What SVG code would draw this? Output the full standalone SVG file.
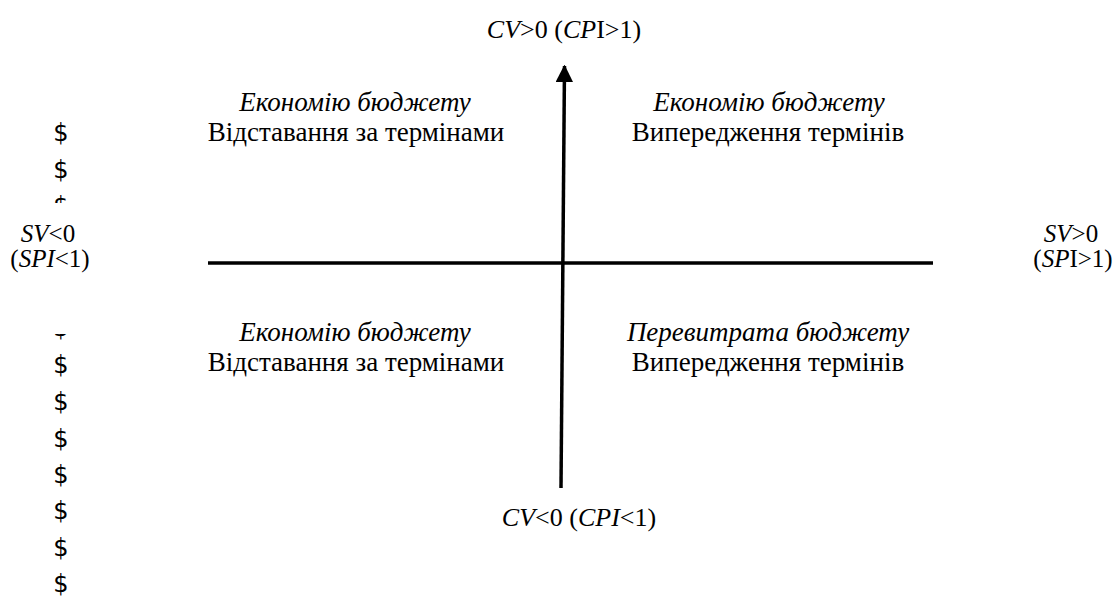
<svg xmlns="http://www.w3.org/2000/svg" width="1115" height="603" viewBox="0 0 1115 603">
<style>
.q{font-size:27px;text-anchor:middle;font-family:'Liberation Serif',serif}
.a{font-size:25px;text-anchor:middle;font-family:'Liberation Serif',serif}
.i{font-style:italic}
.d{font-size:24px;text-anchor:middle;fill:#000;font-family:'DejaVu Sans',sans-serif}
.ax{stroke:#000;stroke-width:3.5;fill:none}
</style>
<defs>
<marker id="arr" markerWidth="5" markerHeight="5" refX="4.6" refY="2.5" orient="auto" markerUnits="strokeWidth" viewBox="0 0 5 5">
<path d="M0,0 L5,2.5 L0,5 Z" fill="#000"/>
</marker>
<clipPath id="ctop"><rect x="0" y="100" width="120" height="103"/></clipPath>
<clipPath id="cbot"><rect x="0" y="334" width="120" height="269"/></clipPath>
</defs>
<g id="connectors">
<line class="ax" x1="208" y1="263" x2="933" y2="263"/>
<line class="ax" x1="561" y1="488" x2="564.5" y2="66" marker-end="url(#arr)"/>
</g>
<g id="dollars">
<g clip-path="url(#ctop)">
<text class="d" x="61" y="141">$</text>
<text class="d" x="61" y="178">$</text>
<text class="d" x="61" y="214">$</text>
</g>
<g clip-path="url(#cbot)">
<text class="d" x="61" y="336">$</text>
<text class="d" x="61" y="373">$</text>
<text class="d" x="61" y="410">$</text>
<text class="d" x="61" y="447">$</text>
<text class="d" x="61" y="483">$</text>
<text class="d" x="61" y="519">$</text>
<text class="d" x="61" y="556">$</text>
<text class="d" x="61" y="592">$</text>
</g>
</g>
<g id="cv-pos"><text class="a" style="font-size:26px" x="564" y="38"><tspan class="i">CV</tspan>&gt;0 (<tspan class="i">CP</tspan>I&gt;1)</text></g>
<g id="cv-neg"><text class="a" style="font-size:26px" x="579" y="526"><tspan class="i">CV</tspan>&lt;0 (<tspan class="i">CPI</tspan>&lt;1)</text></g>
<g id="sv-neg"><text class="a" x="48" y="242"><tspan class="i">SV</tspan>&lt;0</text><text class="a" x="50" y="267">(<tspan class="i">SPI</tspan>&lt;1)</text></g>
<g id="sv-pos"><text class="a" x="1071" y="242"><tspan class="i">SV</tspan>&gt;0</text><text class="a" x="1073" y="267">(<tspan class="i">SP</tspan>I&gt;1)</text></g>
<g id="q-tl"><text class="q i" x="355" y="111">Економію бюджету</text><text class="q" x="356" y="141">Відставання за термінами</text></g>
<g id="q-tr"><text class="q i" x="769" y="111">Економію бюджету</text><text class="q" x="768" y="141">Випередження термінів</text></g>
<g id="q-bl"><text class="q i" x="355" y="341">Економію бюджету</text><text class="q" x="356" y="371">Відставання за термінами</text></g>
<g id="q-br"><text class="q i" x="768" y="341">Перевитрата бюджету</text><text class="q" x="768" y="371">Випередження термінів</text></g>
</svg>
